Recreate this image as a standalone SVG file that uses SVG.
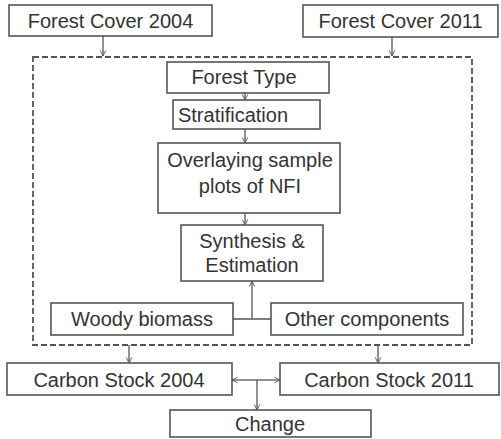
<svg xmlns="http://www.w3.org/2000/svg" width="501" height="439" viewBox="0 0 501 439">
<defs>
<marker id="ah" viewBox="0 0 10 10" refX="9" refY="5" markerWidth="7" markerHeight="7" orient="auto" markerUnits="userSpaceOnUse">
<path d="M1,1 L9,5 L1,9" fill="none" stroke="#555" stroke-width="1.3"/>
</marker>
<style>
.b{fill:#fff;stroke:#555;stroke-width:1.6}
.t{font-family:"Liberation Sans",Arial,sans-serif;font-size:20px;fill:#333;text-anchor:middle}
.c{fill:none;stroke:#555;stroke-width:1.3}
</style>
</defs>
<rect width="501" height="439" fill="#fff"/>
<g id="boundary">
<rect x="33" y="57" width="439" height="288" fill="none" stroke="#555" stroke-width="1.8" stroke-dasharray="6,3"/>
</g>
<g id="connectors">
<line class="c" x1="103" y1="36" x2="103" y2="56" marker-end="url(#ah)"/>
<line class="c" x1="392" y1="37" x2="392" y2="56" marker-end="url(#ah)"/>
<line class="c" x1="245" y1="93" x2="245" y2="100" marker-end="url(#ah)"/>
<line class="c" x1="245" y1="129" x2="245" y2="143" marker-end="url(#ah)"/>
<line class="c" x1="245" y1="213" x2="245" y2="225" marker-end="url(#ah)"/>
<line class="c" x1="233" y1="319" x2="271" y2="319"/>
<line class="c" x1="252" y1="319" x2="252" y2="281" marker-end="url(#ah)"/>
<line class="c" x1="129" y1="345" x2="129" y2="363" marker-end="url(#ah)"/>
<line class="c" x1="378" y1="345" x2="378" y2="363" marker-end="url(#ah)"/>
<line class="c" x1="256" y1="380" x2="232" y2="380" marker-end="url(#ah)"/>
<line class="c" x1="256" y1="380" x2="280" y2="380" marker-end="url(#ah)"/>
<line class="c" x1="257" y1="380" x2="257" y2="410" marker-end="url(#ah)"/>
</g>
<g id="fc2004"><rect class="b" x="9" y="5" width="203" height="31"/><text class="t" x="110.5" y="28">Forest Cover 2004</text></g>
<g id="fc2011"><rect class="b" x="303" y="5" width="195" height="32"/><text class="t" x="400.5" y="28">Forest Cover 2011</text></g>
<g id="ftype"><rect class="b" x="167" y="62" width="162" height="31"/><text class="t" x="244" y="84">Forest Type</text></g>
<g id="strat"><rect class="b" x="173" y="100" width="147" height="29"/><text class="t" x="233" y="122">Stratification</text></g>
<g id="overlay"><rect class="b" x="158" y="143" width="182" height="70"/><text class="t" x="250" y="167">Overlaying sample</text><text class="t" x="250" y="193">plots of NFI</text></g>
<g id="synth"><rect class="b" x="181" y="225" width="142" height="56"/><text class="t" x="252" y="248">Synthesis &amp;</text><text class="t" x="252" y="272">Estimation</text></g>
<g id="woody"><rect class="b" x="51" y="303" width="182" height="32"/><text class="t" x="142" y="326">Woody biomass</text></g>
<g id="other"><rect class="b" x="271" y="303" width="192" height="32"/><text class="t" x="367" y="326">Other components</text></g>
<g id="cs2004"><rect class="b" x="7" y="363" width="225" height="32"/><text class="t" x="119" y="387">Carbon Stock 2004</text></g>
<g id="cs2011"><rect class="b" x="280" y="363" width="219" height="32"/><text class="t" x="389" y="387">Carbon Stock 2011</text></g>
<g id="change"><rect class="b" x="170" y="410" width="201" height="27"/><text class="t" x="270" y="431">Change</text></g>
</svg>
